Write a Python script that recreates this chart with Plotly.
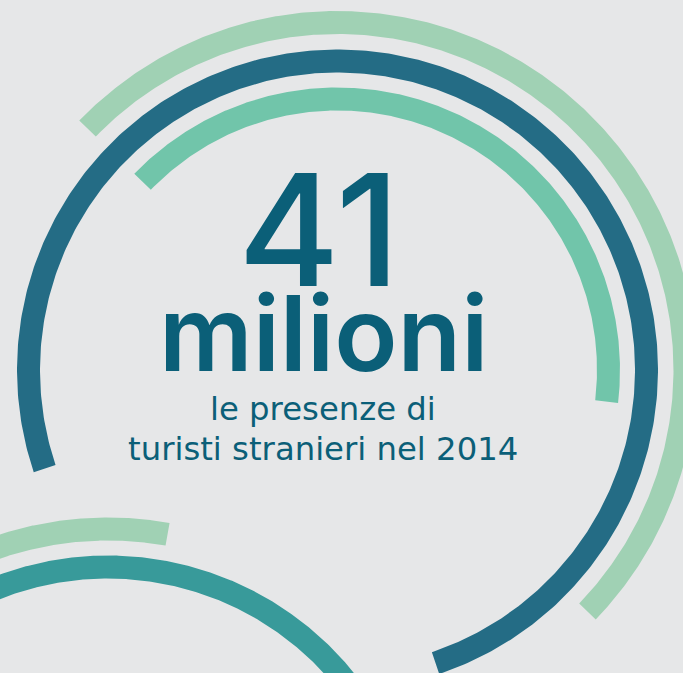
import numpy as np
import plotly.graph_objects as go

# ---- data (content of the infographic) ----
headline_number = "41"
headline_unit = "milioni"
subtitle_lines = ["le presenze di", "turisti stranieri nel 2014"]

# decorative ring segments: start / end angle in degrees (math convention)
arc_names = ["outer_top", "main_top", "inner_top", "outer_low", "main_low"]
arc_start_deg = [136.0, 198.6, 136.0, 150.0, 150.0]
arc_end_deg = [-44.0, -71.5, -6.7, 80.0, 20.0]

# ---- layout / style constants ----
W, H = 683, 673
BG = "#e6e7e8"
TEXT = "#0b5f78"
ring_center = {"outer_top": (337.5, 370), "main_top": (337.5, 370), "inner_top": (337.5, 370),
               "outer_low": (108, 872), "main_low": (108, 872)}
ring_radius = {"outer_top": 347.5, "main_top": 309, "inner_top": 271,
               "outer_low": 343, "main_low": 305}
ring_color = {"outer_top": "#a0d1b4", "main_top": "#246c85", "inner_top": "#71c5aa",
              "outer_low": "#a0d1b4", "main_low": "#389a9a"}
THICK = 23

fig = go.Figure()

for name, a0, a1 in zip(arc_names, arc_start_deg, arc_end_deg):
    cx, cy = ring_center[name]
    r = ring_radius[name]
    t = np.radians(np.linspace(a0, a1, 400))
    ro, ri = r + THICK / 2, r - THICK / 2
    xs = np.concatenate([cx + ro * np.cos(t), cx + ri * np.cos(t[::-1])])
    ys = np.concatenate([cy - ro * np.sin(t), cy - ri * np.sin(t[::-1])])
    xs = np.append(xs, xs[0])
    ys = np.append(ys, ys[0])
    fig.add_trace(go.Scatter(x=xs, y=ys, mode="lines", fill="toself",
                             fillcolor=ring_color[name], line=dict(width=0),
                             hoverinfo="skip", showlegend=False, name=name))

fig.add_annotation(x=318.5, y=229.5, text=headline_number, showarrow=False,
                   xanchor="center", yanchor="middle",
                   font=dict(family="Inter", size=155, color=TEXT, weight=550))
fig.add_annotation(x=323, y=333, text=headline_unit, showarrow=False,
                   xanchor="center", yanchor="middle",
                   font=dict(family="Inter", size=104, color=TEXT, weight=560))
fig.add_annotation(x=322.5, y=408.8, text=subtitle_lines[0], showarrow=False,
                   xanchor="center", yanchor="middle",
                   font=dict(family="DejaVu Sans", size=32.3, color=TEXT, weight=400))
fig.add_annotation(x=322.5, y=448.8, text=subtitle_lines[1], showarrow=False,
                   xanchor="center", yanchor="middle",
                   font=dict(family="DejaVu Sans", size=32.3, color=TEXT, weight=400))

fig.update_layout(width=W, height=H, margin=dict(l=0, r=0, t=0, b=0),
                  paper_bgcolor=BG, plot_bgcolor=BG, showlegend=False)
fig.update_xaxes(range=[0, W], visible=False, fixedrange=True)
fig.update_yaxes(range=[H, 0], visible=False, fixedrange=True)

fig.write_html("out.html", config={"displayModeBar": False},
               post_script="document.body.style.margin='0';document.body.style.background='%s';" % BG)
